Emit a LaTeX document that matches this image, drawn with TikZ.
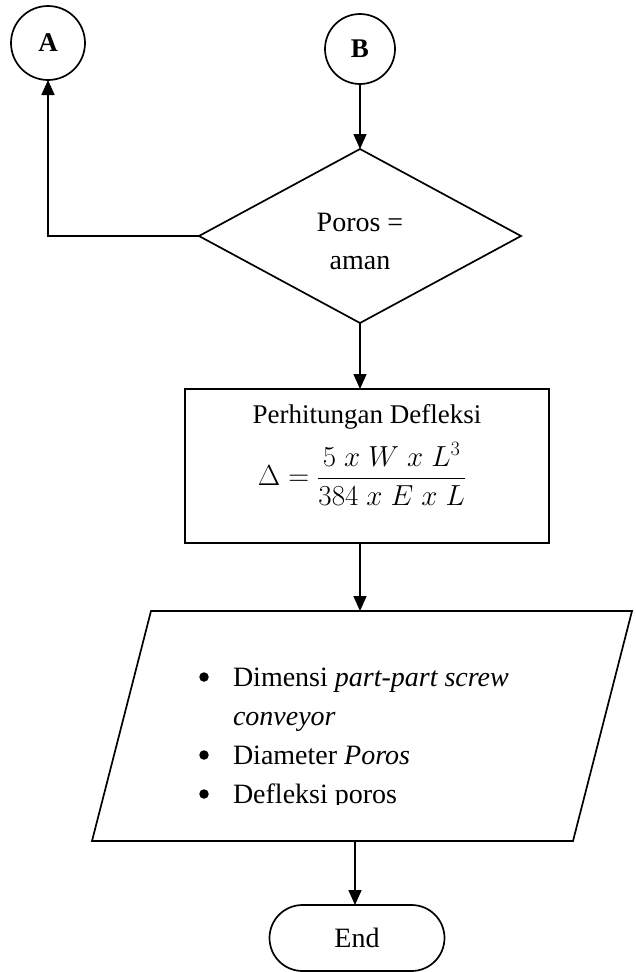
\RequirePackage{fix-cm}
\documentclass[tikz,border=0pt]{standalone}
\usepackage{amsmath}
\usepackage{fontspec}
\setmainfont{Liberation Serif}
\usetikzlibrary{arrows.meta,shapes.geometric}
\begin{document}
\begin{tikzpicture}[x=1pt,y=-1pt,line width=1.7pt,
  every node/.style={font=\fontsize{28}{34}\selectfont,inner sep=0pt,outer sep=0pt},
  conn/.style={-{Triangle[length=15pt,width=13pt]},line width=1.7pt},
  connector/.style={circle,draw,font=\fontsize{27}{32}\selectfont\bfseries},
  label/.style={anchor=base},
  item/.style={anchor=base west},
  dot/.style={circle,fill,minimum size=9.5pt}]
\useasboundingbox (0,0) rectangle (635,972);

% off-page connectors
\node[connector,minimum size=74pt] (A) at (48,43) {A};
\node[connector,minimum size=70pt] (B) at (360,49) {B};

% decision
\node[diamond,draw,minimum width=322pt,minimum height=174pt] (dec) at (360,236) {};
\node[label] (dec1) at (360,231) {Poros =};
\node[label] (dec2) at (360,269) {aman};

% deflection calculation
\node[draw,minimum width=364pt,minimum height=154pt] (calc) at (367,466) {};
\node[label,font=\fontsize{27}{32}\selectfont] (calct) at (367,423) {Perhitungan Defleksi};
\node[font=\fontsize{29}{34}\selectfont] (eq) at (362,474)
  {$\Delta = \dfrac{5\;x\;W\;x\;L^{3}}{384\;x\;E\;x\;L}$};

% output parallelogram
\coordinate (ioTL) at (151,611);
\coordinate (ioTR) at (632,611);
\coordinate (ioBR) at (573,841);
\coordinate (ioBL) at (92,841);
\coordinate (ioN) at (360,611);
\coordinate (ioS) at (355,841);
\draw (ioTL) -- (ioTR) -- (ioBR) -- (ioBL) -- cycle;
\begin{scope}
  \clip (92,611) rectangle (632,804);
  \node[dot] (d1) at (204,677) {};
  \node[item] (i1) at (233,686) {Dimensi \textit{part-part screw}};
  \node[item] (i1b) at (233,725) {\textit{conveyor}};
  \node[dot] (d2) at (204,755) {};
  \node[item] (i2) at (233,764) {Diameter \textit{Poros}};
  \node[dot] (d3) at (204,794) {};
  \node[item] (i3) at (233,803) {Defleksi poros};
\end{scope}

% terminator
\node[draw,rounded corners=33pt,minimum width=175pt,minimum height=66pt] (end) at (357,938) {End};

% connectors
\draw[conn] (B) -- (dec.north);
\draw[conn] (dec.west) -| (A.south);
\draw[conn] (dec.south) -- (dec.south |- calc.north);
\draw[conn] (calc.south -| ioN) -- (ioN);
\draw[conn] (ioS) -- (ioS |- end.north);
\end{tikzpicture}
\end{document}
